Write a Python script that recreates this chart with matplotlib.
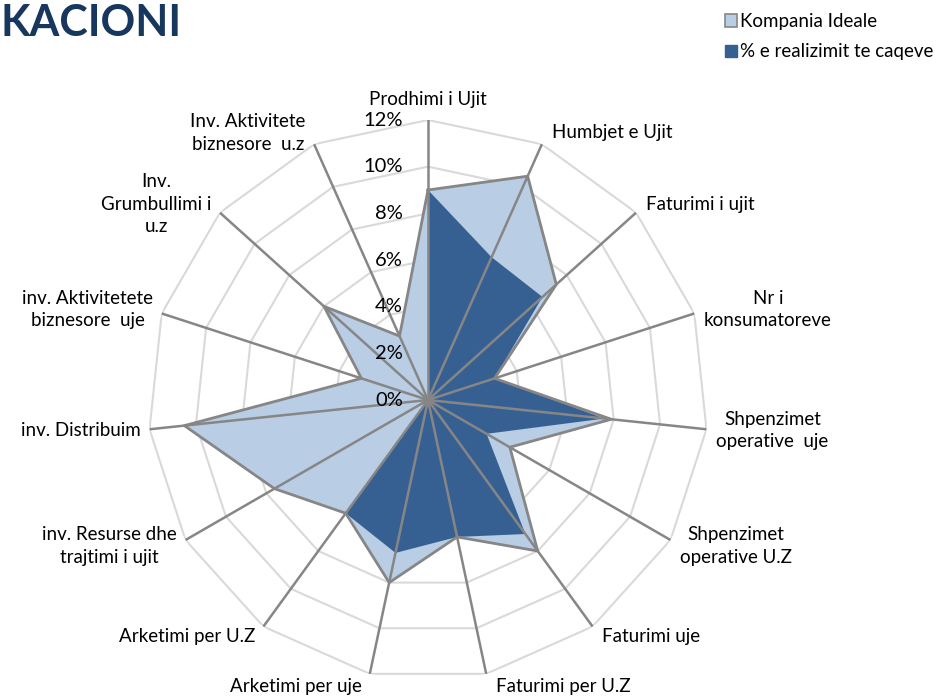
import numpy as np
import matplotlib
matplotlib.use("Agg")
import matplotlib.pyplot as plt
from matplotlib.patches import Patch

plt.rcParams["font.family"] = ["Lato", "DejaVu Sans"]

# ── Data ───────────────────────────────────────────────────────────
categories = [
    "Prodhimi i Ujit", "Humbjet e Ujit", "Faturimi i ujit", "Nr i\nkonsumatoreve",
    "Shpenzimet\noperative  uje", "Shpenzimet\noperative U.Z", "Faturimi uje",
    "Faturimi per U.Z", "Arketimi per uje", "Arketimi per U.Z",
    "inv. Resurse dhe\ntrajtimi i ujit", "inv. Distribuim",
    "inv. Aktivitetete\nbiznesore  uje", "Inv.\nGrumbullimi i\nu.z",
    "Inv. Aktivitete\nbiznesore  u.z",
]
ideal = [9.0, 10.5, 7.4, 3.0, 7.9, 4.05, 8.0, 6.0, 8.0, 6.0, 7.6, 10.5, 3.0, 6.0, 3.0]
realized = [9.0, 6.7, 6.6, 3.0, 7.6, 2.9, 7.1, 6.0, 6.7, 6.0, 0, 0, 0, 0, 0]
r_ticks = [0, 2, 4, 6, 8, 10, 12]
r_tick_labels = ["0%", "2%", "4%", "6%", "8%", "10%", "12%"]

series_names = ["Kompania Ideale", "% e realizimit te caqeve"]

# ── Colors ─────────────────────────────────────────────────────────
LIGHT = "#B9CDE5"
DARK = "#376092"
LINE_GRAY = "#868686"
GRID_GRAY = "#D9D9D9"
TITLE_COLOR = "#17375E"

n = len(categories)
theta = np.arange(n) * 2 * np.pi / n
theta_closed = np.append(theta, theta[0])


def closed(vals):
    return np.append(vals, vals[0])


# ── Figure ─────────────────────────────────────────────────────────
fig = plt.figure(figsize=(9.41, 6.96), dpi=100)
ax = fig.add_axes([148 / 941, 16 / 696, 560 / 941, 560 / 696], projection="polar")
ax.set_theta_zero_location("N")
ax.set_theta_direction(-1)
ax.set_ylim(0, 12)
ax.grid(False)
ax.spines["polar"].set_visible(False)
ax.set_xticks([])
ax.set_yticks([])
ax.patch.set_alpha(0)

# polygon gridlines
for r in r_ticks[1:]:
    ax.plot(theta_closed, [r] * (n + 1), color=GRID_GRAY, lw=1.5, zorder=1)

# series
ax.fill(theta_closed, closed(ideal), color=LIGHT, zorder=2, lw=0)
ax.fill(theta_closed, closed(realized), color=DARK, zorder=3, lw=0)

# spokes
for t in theta:
    ax.plot([t, t], [0, 12], color=LINE_GRAY, lw=1.8, zorder=4)

ax.plot(theta_closed, closed(ideal), color=LINE_GRAY, lw=2, zorder=5)

# radial tick labels along the top spoke
for r, lab in zip(r_ticks, r_tick_labels):
    ax.annotate(lab, xy=(0, r), xytext=(-18, 0), textcoords="offset points",
                ha="right", va="center", fontsize=14.5, color="black", zorder=6)

# category labels
for t, lab in zip(theta, categories):
    s, c = np.sin(t), np.cos(t)
    if abs(s) < 0.05:
        ha, dx, dy, va = "center", 0, 9, "bottom"
    else:
        ha = "left" if s > 0 else "right"
        dx = 7 if s > 0 else -6
        dy = 9 * c
        va = "center"
    ax.annotate(lab, xy=(t, 12), xytext=(dx, dy), textcoords="offset points",
                ha=ha, va=va, multialignment="center", fontsize=13.5,
                color="black", annotation_clip=False, linespacing=1.4)

# title
fig.text(1 / 941, 1 - 23 / 696, "KACIONI", fontsize=31, fontweight="bold",
         color=TITLE_COLOR, ha="left", va="center")

# legend
handles = [Patch(facecolor=LIGHT, edgecolor=LINE_GRAY, lw=1.2),
           Patch(facecolor=DARK, edgecolor=DARK)]
fig.legend(handles, series_names, loc="upper left",
           bbox_to_anchor=(712 / 941, 1 - 0 / 696), frameon=False,
           fontsize=13.5, handlelength=0.62, handleheight=0.62,
           handletextpad=0.2, labelspacing=0.7, borderpad=0.2)

fig.savefig("out.png", dpi=100)
